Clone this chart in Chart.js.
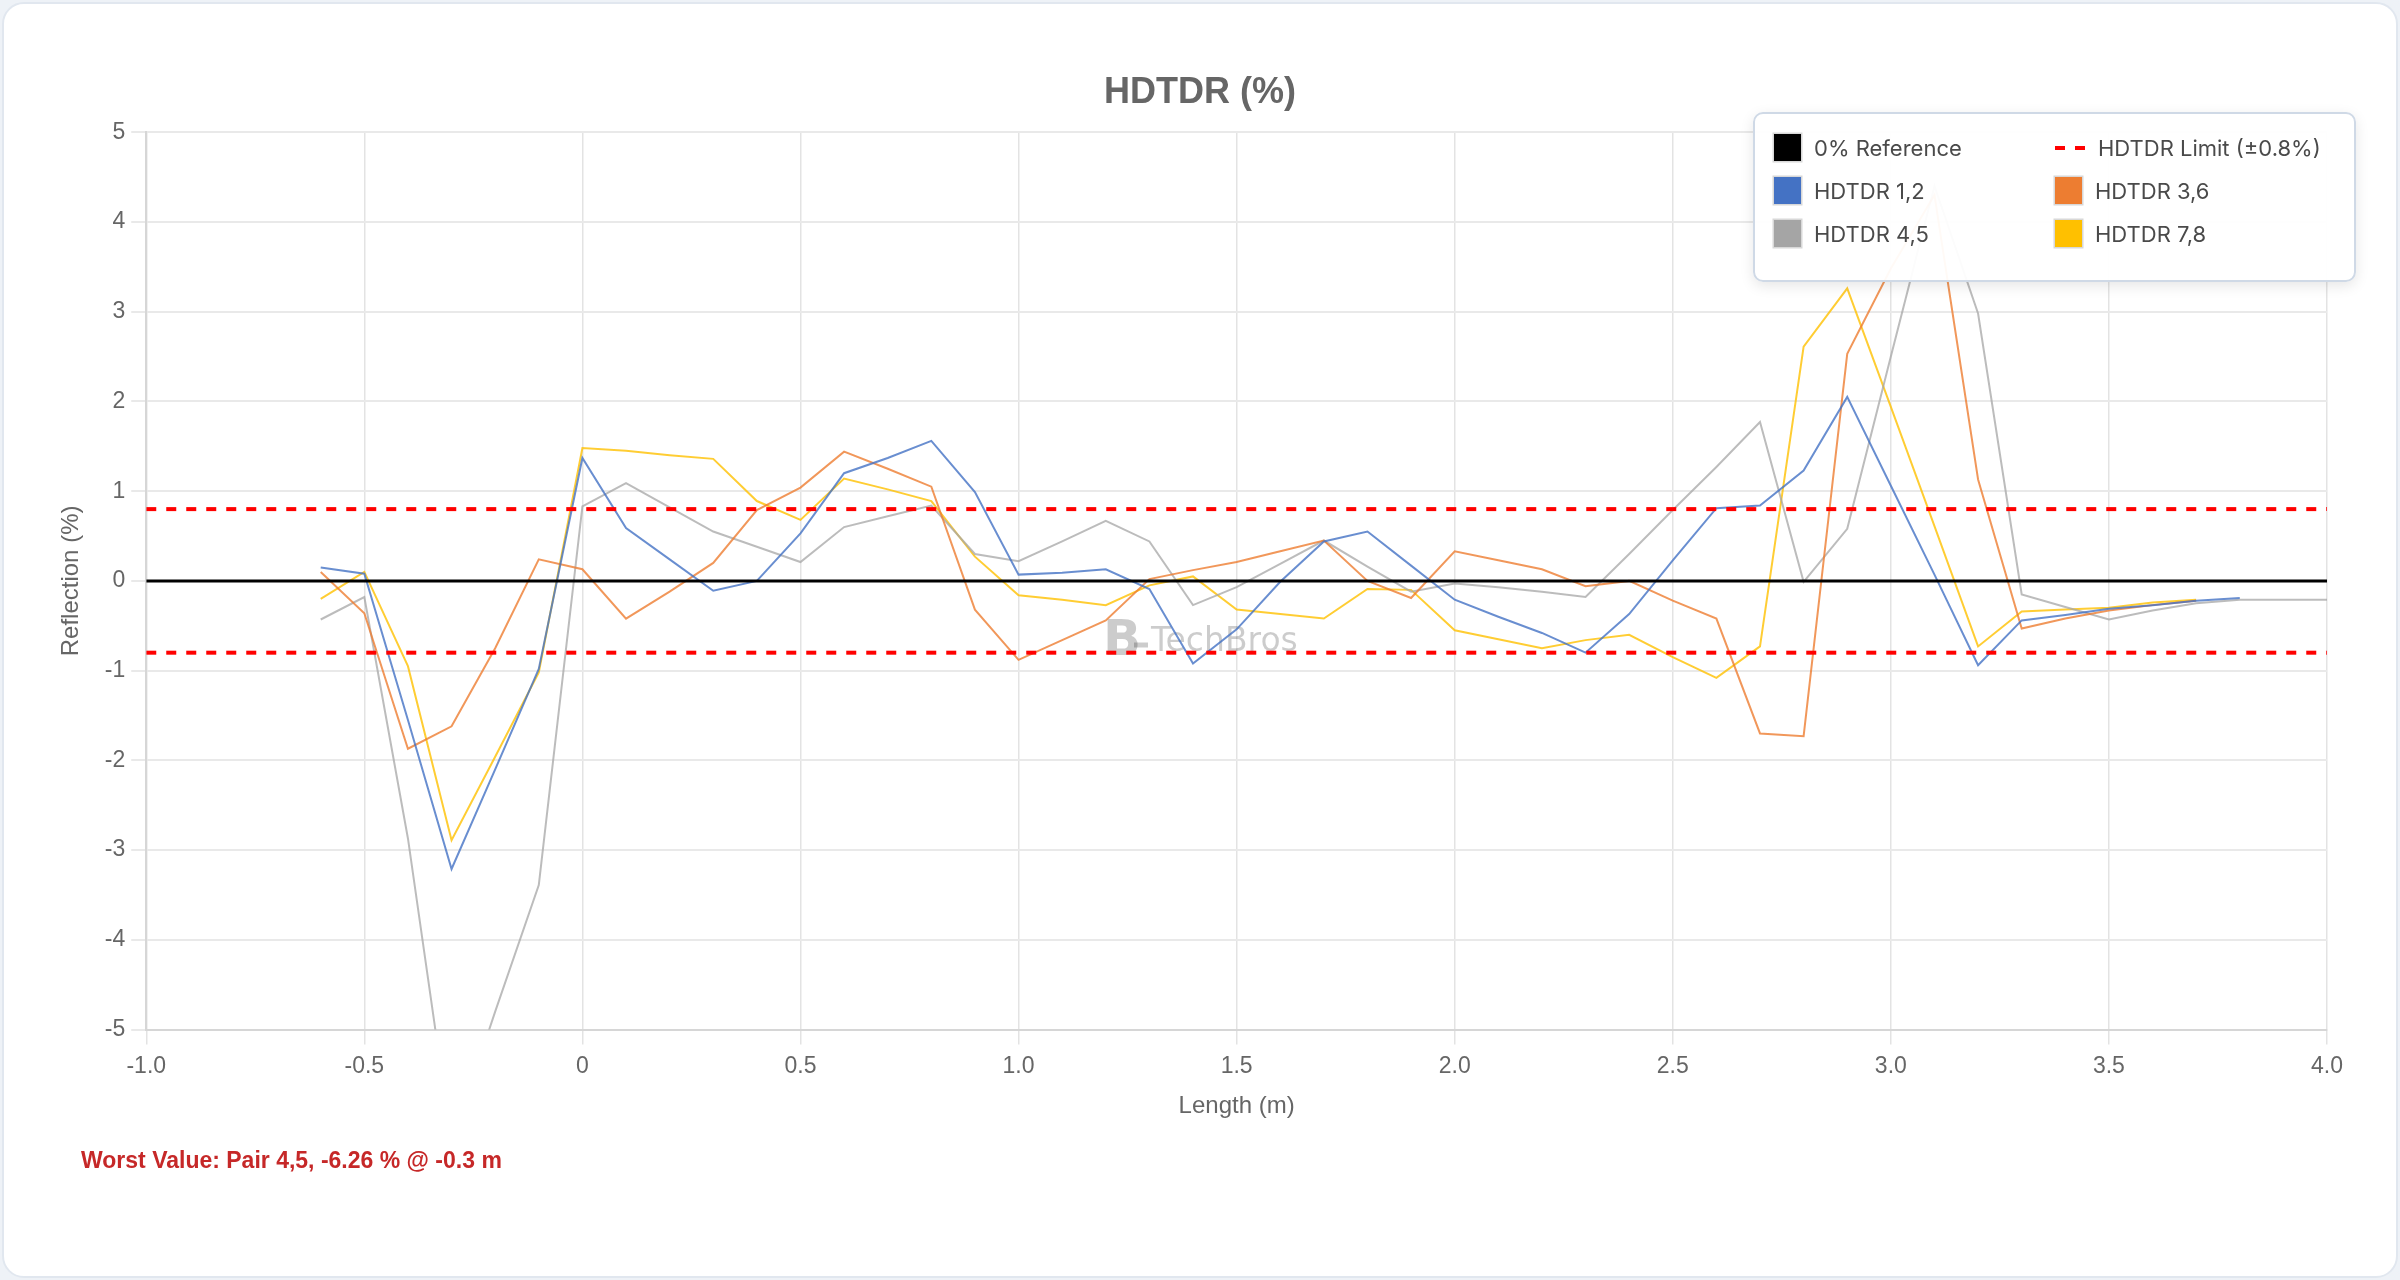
<!DOCTYPE html>
<html lang="en">
<head>
  <meta charset="UTF-8" />
  <title>HDTDR (%)</title>
  <script src="https://cdn.jsdelivr.net/npm/chart.js"></script>
  <style>
    html, body {
      margin: 0;
      width: 100%;
      height: 100%;
      background: #eef2f7;
      overflow: hidden;
    }
    .card {
      position: absolute;
      left: 2px; top: 2px; right: 2px; bottom: 2px;
      border: 2px solid #e1e7ef;
      border-radius: 22px;
      background: #fff;
    }
    .chart-container {
      position: absolute;
      left: 0; top: 0;
      width: 2400px;
      height: 1280px;
    }
    #legend {
      position: absolute;
      left: 1753px; top: 112px;
      width: 603px; height: 170px;
      box-sizing: border-box;
      border: 2px solid #cfd9e6;
      border-radius: 10px;
      background: rgba(255, 255, 255, 0.95);
      box-shadow: 0 4px 14px rgba(0, 0, 0, 0.10);
      padding: 12px 0 0 19px;
      display: grid;
      grid-template-columns: 281px 281px;
      grid-auto-rows: 43px;
      font-family: Inter, "Noto Sans", sans-serif;
      font-size: 22px;
      color: #4a4a4a;
    }
    .item { display: flex; align-items: center; gap: 13px; }
    .swatch { width: 27px; height: 27px; box-shadow: 0 0 0 1.5px #d8d8d8; }
    .dash {
      width: 30px; height: 4px;
      background: repeating-linear-gradient(90deg, #ff0000 0 10px, transparent 10px 20px);
    }
    #worst {
      position: absolute;
      left: 81px; top: 1147px;
      font-family: "Liberation Sans", Arial, sans-serif;
      font-weight: bold;
      font-size: 23px;
      color: #c62828;
    }
  </style>
</head>
<body>
  <div class="card"></div>
  <div class="chart-container">
    <canvas id="hdtdrChart"></canvas>
  </div>
  <div id="legend"></div>
  <div id="worst"></div>

  <script>
    // length axis, 0.1 m steps
    const lengths = [-0.6, -0.5, -0.4, -0.3, -0.2, -0.1, 0, 0.1, 0.2, 0.3, 0.4, 0.5, 0.6, 0.7, 0.8, 0.9,
      1.0, 1.1, 1.2, 1.3, 1.4, 1.5, 1.6, 1.7, 1.8, 1.9, 2.0, 2.1, 2.2, 2.3, 2.4, 2.5, 2.6, 2.7, 2.8, 2.9,
      3.0, 3.1, 3.2, 3.3, 3.4, 3.5, 3.6, 3.7, 3.8, 3.9, 4.0];

    const pair12 = [0.15, 0.08, -1.55, -3.21, -2.1, -0.98, 1.37, 0.59, 0.24, -0.11, 0.0, 0.53, 1.20, 1.37,
      1.56, 0.99, 0.07, 0.09, 0.13, -0.09, -0.92, -0.54, -0.01, 0.44, 0.55, 0.17, -0.21, -0.40, -0.58,
      -0.80, -0.37, 0.23, 0.81, 0.84, 1.23, 2.05, 1.06, 0.07, -0.94, -0.44, -0.38, -0.31, -0.27, -0.22,
      -0.19, null, null];

    const pair36 = [0.10, -0.36, -1.87, -1.62, -0.75, 0.24, 0.13, -0.42, -0.12, 0.20, 0.79, 1.04, 1.44, 1.25,
      1.05, -0.32, -0.88, -0.66, -0.44, 0.02, 0.12, 0.21, 0.33, 0.45, 0.0, -0.19, 0.33, 0.23, 0.13,
      -0.06, 0.0, -0.22, -0.42, -1.70, -1.73, 2.53, 3.48, 4.30, 1.13, -0.53, -0.42, -0.33, -0.27, -0.22,
      null, null, null];

    const pair45 = [-0.43, -0.18, -2.87, -6.26, -4.80, -3.39, 0.83, 1.09, 0.82, 0.55, 0.38, 0.21, 0.60, 0.72,
      0.84, 0.30, 0.22, 0.44, 0.67, 0.44, -0.27, -0.07, 0.19, 0.45, 0.16, -0.12, -0.03, -0.07, -0.12,
      -0.18, 0.30, 0.79, 1.27, 1.77, -0.01, 0.58, 2.50, 4.40, 2.98, -0.15, -0.29, -0.43, -0.33, -0.25,
      -0.21, -0.21, -0.21];

    const pair78 = [-0.20, 0.10, -0.95, -2.89, -1.96, -1.02, 1.48, 1.45, 1.40, 1.36, 0.89, 0.68, 1.14, 1.02,
      0.89, 0.27, -0.16, -0.21, -0.27, -0.05, 0.05, -0.32, -0.37, -0.42, -0.09, -0.10, -0.55, -0.65, -0.75,
      -0.66, -0.60, -0.85, -1.08, -0.73, 2.61, 3.26, 1.94, 0.61, -0.73, -0.34, -0.32, -0.30, -0.24, -0.21,
      null, null, null];

    const pairNames = ['1,2', '3,6', '4,5', '7,8'];
    const pairColors = ['#4472C4', '#ED7D31', '#A5A5A5', '#FFC000'];
    const pairLineColors = ['rgba(68,114,196,0.8)', 'rgba(237,125,49,0.8)', 'rgba(165,165,165,0.75)', 'rgba(255,192,0,0.8)'];
    const pairValues = [pair12, pair36, pair45, pair78];

    const xBounds = [-1, 4];
    const referenceLevel = [0, 0];
    const limit = 0.8;

    const toPoints = (ys) => lengths.map((x, i) => ({ x: x, y: ys[i] })).filter(p => p.y !== null);
    const flatLine = (ys) => xBounds.map((x, i) => ({ x: x, y: ys[i] }));

    const datasets = [
      { label: '0% Reference', data: flatLine(referenceLevel), borderColor: '#000', borderWidth: 3 },
      { label: 'HDTDR Limit (±0.8%)', data: flatLine([limit, limit]), borderColor: '#ff0000', borderWidth: 4, borderDash: [10, 10] },
      { label: 'HDTDR Limit (±0.8%)', data: flatLine([-limit, -limit]), borderColor: '#ff0000', borderWidth: 4, borderDash: [10, 10] }
    ];
    pairValues.forEach((vals, k) => {
      datasets.push({
        label: 'HDTDR ' + pairNames[k],
        data: toPoints(vals),
        borderColor: pairLineColors[k],
        borderWidth: 2
      });
    });

    // watermark in the middle of the canvas, under the lines
    const watermark = {
      id: 'watermark',
      beforeDatasetsDraw(chart) {
        const ctx = chart.ctx;
        const cx = chart.width / 2, cy = chart.height / 2;
        ctx.save();
        ctx.fillStyle = 'rgba(0,0,0,0.2)';
        ctx.strokeStyle = 'rgba(0,0,0,0.2)';
        ctx.textBaseline = 'middle';
        ctx.font = 'bold 50px "DejaVu Sans"';
        ctx.fillText('B', cx - 97, cy + 2);
        ctx.lineWidth = 5;
        ctx.beginPath();
        ctx.moveTo(cx - 66, cy + 5);
        ctx.lineTo(cx - 52, cy + 5);
        ctx.stroke();
        ctx.font = '33px "DejaVu Sans"';
        ctx.fillText('TechBros', cx - 49, cy + 2);
        ctx.restore();
      }
    };

    Chart.defaults.font.family = '"Liberation Sans", Arial, sans-serif';
    Chart.defaults.color = '#666';

    new Chart(document.getElementById('hdtdrChart'), {
      type: 'line',
      data: { datasets: datasets },
      options: {
        responsive: true,
        maintainAspectRatio: false,
        animation: false,
        elements: {
          point: { radius: 0, hoverRadius: 0 },
          line: { tension: 0, fill: false }
        },
        layout: { padding: { left: 73, right: 73, top: 0, bottom: 155 } },
        plugins: {
          legend: { display: false },
          tooltip: { enabled: false },
          title: {
            display: true,
            text: 'HDTDR (%)',
            color: '#666',
            font: { size: 36, weight: 'bold' },
            padding: { top: 71, bottom: 18 }
          }
        },
        scales: {
          x: {
            type: 'linear',
            min: xBounds[0],
            max: xBounds[1],
            ticks: {
              stepSize: 0.5,
              font: { size: 23 },
              padding: 8,
              callback: v => v === 0 ? '0' : v.toFixed(1)
            },
            grid: { color: '#e3e3e3', lineWidth: 1.5, tickLength: 15 },
            border: { color: '#d6d6d6', width: 2 },
            title: { display: true, text: 'Length (m)', font: { size: 24 }, padding: { top: 4, bottom: 4 } }
          },
          y: {
            min: -5,
            max: 5,
            ticks: { stepSize: 1, font: { size: 23 }, padding: 6 },
            grid: { color: '#e9e9e9', lineWidth: 2, tickLength: 15 },
            border: { color: '#d6d6d6', width: 2 },
            title: { display: true, text: 'Reflection (%)', font: { size: 24 }, padding: { top: -16, bottom: 13 } }
          }
        }
      },
      plugins: [watermark]
    });

    // legend box, built from the dataset list
    const legendEl = document.getElementById('legend');
    const legendItems = [
      { text: datasets[0].label, color: '#000' },
      { text: datasets[1].label, dashed: true }
    ].concat(pairNames.map((n, k) => ({ text: 'HDTDR ' + n, color: pairColors[k] })));
    legendItems.forEach(it => {
      const row = document.createElement('div');
      row.className = 'item';
      const mark = document.createElement('div');
      if (it.dashed) {
        mark.className = 'dash';
      } else {
        mark.className = 'swatch';
        mark.style.background = it.color;
      }
      const label = document.createElement('span');
      label.textContent = it.text;
      row.appendChild(mark);
      row.appendChild(label);
      legendEl.appendChild(row);
    });

    // worst value note
    let worst = { v: 0, x: 0, k: 0 };
    pairValues.forEach((vals, k) => vals.forEach((v, i) => {
      if (v !== null && Math.abs(v) > Math.abs(worst.v)) worst = { v: v, x: lengths[i], k: k };
    }));
    document.getElementById('worst').textContent =
      'Worst Value: Pair ' + pairNames[worst.k] + ', ' + worst.v.toFixed(2) + ' % @ ' + worst.x + ' m';
  </script>
</body>
</html>
